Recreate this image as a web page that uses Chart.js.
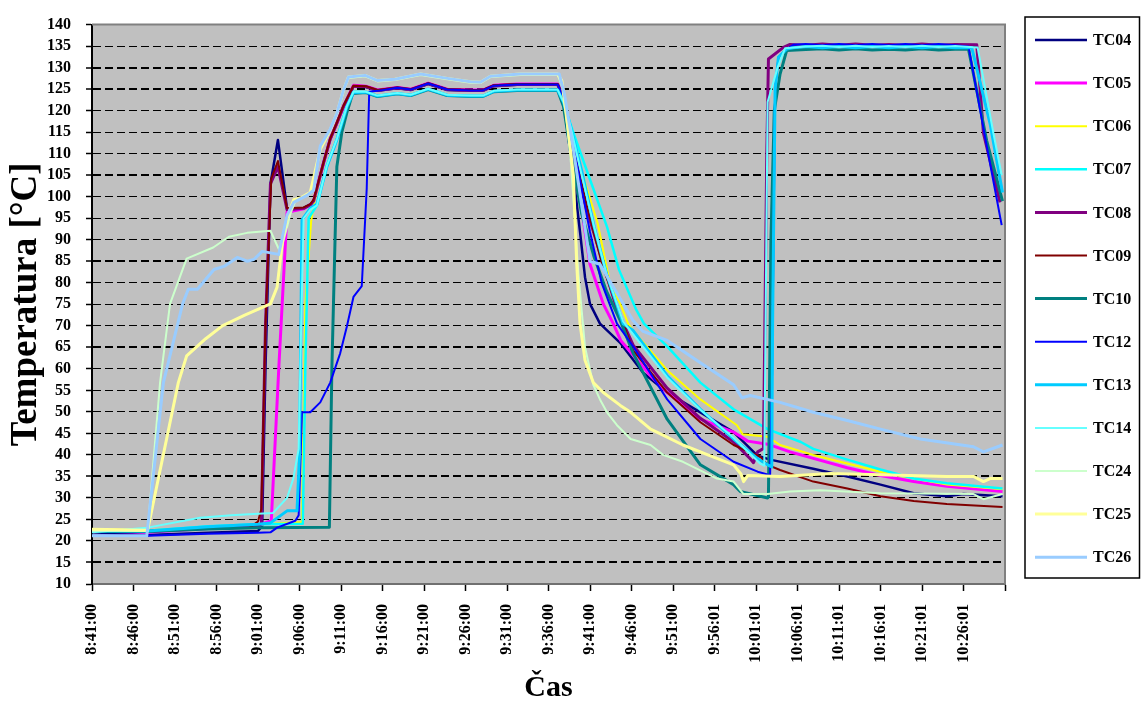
<!DOCTYPE html>
<html><head><meta charset="utf-8">
<script src="https://cdn.jsdelivr.net/npm/chart.js@4.4.1/dist/chart.umd.min.js"></script>
<style>html,body{margin:0;padding:0;background:#fff;}canvas{display:block;}</style>
</head><body>
<canvas id="c" width="1141" height="704"></canvas>
<script>
// x values: minutes after 8:41:00
const tickLabels = ['8:41:00','8:46:00','8:51:00','8:56:00','9:01:00','9:06:00','9:11:00','9:16:00','9:21:00','9:26:00','9:31:00','9:36:00','9:41:00','9:46:00','9:51:00','9:56:01','10:01:01','10:06:01','10:11:01','10:16:01','10:21:01','10:26:01'];
const seriesNames = ['TC04','TC05','TC06','TC07','TC08','TC09','TC10','TC12','TC13','TC14','TC24','TC25','TC26'];

const TC04 = [[0,22.0],[6.7,21.4],[14,21.9],[20,22.3],[20.5,23.5],[20.9,60],[21.5,103],[22.4,113.2],[23.5,97.2],[25.5,97.4],[26.3,98.2],[26.7,99],[27.9,107.9],[28.7,113.4],[29.5,117.1],[30.3,121],[31.5,125.6],[33,125.5],[34.4,124.6],[36.8,125.2],[38.4,124.8],[40.5,126.2],[42.8,124.8],[45.6,124.6],[47.1,124.6],[48.4,125.7],[51.2,126],[56.1,126],[56.8,122.6],[58,104.9],[58.8,91.8],[59.4,81.3],[60,75.1],[61.2,70.5],[63.7,65.9],[66.4,59.1],[69.3,54.5],[73.3,49.9],[77.3,45.3],[80.2,39.8],[81.7,38.9],[86.9,36.8],[91,35],[95,33.1],[99,31.1],[103,30.4],[105,30.9],[109.7,30.4]];
const TC05 = [[0,22.3],[6.7,22.0],[14,22.9],[20,23.6],[21.6,24.7],[22.5,60],[23.5,96.4],[24.5,96.8],[25.5,97.2],[26.3,98.2],[26.7,99],[27.9,107.9],[28.7,113.4],[29.5,117.1],[30.3,121],[31.5,125.9],[33,125.7],[34.4,124.8],[36.8,125.4],[38.4,125],[40.5,126.4],[42.8,125],[45.6,124.8],[47.1,124.8],[48.4,125.9],[51.2,126.2],[56.1,126.2],[56.8,123],[57.6,113],[58.8,99.6],[60,84.3],[61.6,75.1],[62.8,70.5],[63.7,66.6],[67.3,58.4],[69.3,54.5],[73.3,48.3],[77.3,45.3],[79,43.2],[81.4,42.5],[84.1,40.7],[86.9,39.2],[91,37],[95,35.2],[99,33.8],[103,32.7],[109.7,31.5]];
const TC06 = [[0,22.7],[6.7,22.5],[14,23.2],[20,23.8],[25.3,24.4],[25.7,75],[26.4,94.2],[26.8,99],[27.9,107.9],[28.7,113.4],[29.5,117.1],[30.3,121],[31.5,125.8],[33,125.6],[34.4,124.7],[36.8,125.3],[38.4,124.9],[40.5,126.3],[42.8,124.9],[45.6,124.7],[47.1,124.7],[48.4,125.8],[51.2,126.1],[56.1,126.1],[56.8,123.5],[58,112],[60.9,94],[62.4,80],[63.65,75.1],[64.6,70.5],[65.2,68.9],[69.3,59.7],[73.3,52.9],[77.7,46.9],[78.4,44.8],[81.4,44.2],[82.9,42.3],[86.9,40],[91,38],[95,36.1],[99,34.5],[103,33.1],[109.7,32]];
const TC07 = [[0,22.5],[6.7,22.4],[14,23.4],[20,23.9],[25.4,24],[25.7,60],[26.1,95],[27.1,98],[28.3,107.2],[29.5,113.4],[30.7,121],[31.5,124.4],[33,124.3],[34.4,123.4],[36.8,124],[38.4,123.6],[40.5,125],[42.8,123.6],[45.6,123.4],[47.1,123.4],[48.4,124.5],[51.2,124.8],[56.1,124.8],[56.8,122],[58,114.8],[60,104],[62.05,93],[63.5,83],[65.5,74],[66.5,70.5],[69.3,65.2],[73.3,56.8],[77.3,50.6],[81.4,46],[85.4,43],[86.9,41.4],[91,38.9],[95,36.6],[99,34.5],[103,33.4],[109.7,32.2]];
const TC08 = [[0,22.3],[6.7,22.2],[14,23],[20,23.4],[20.4,24],[20.9,70],[21.5,103],[22.4,107],[23.5,97],[25.5,97.3],[26.3,98.1],[26.7,99],[27.9,107.9],[28.7,113.4],[29.5,117.1],[30.3,121],[31.5,125.7],[33,125.6],[34.4,124.7],[36.8,125.3],[38.4,124.9],[40.5,126.3],[42.8,124.9],[45.6,124.7],[47.1,124.7],[48.4,125.8],[51.2,126.1],[56.1,126.1],[56.8,123],[58,110],[59.6,97],[61.5,85],[63.2,74],[65.2,65.5],[69.3,55.5],[73.3,48.5],[77.3,43],[79.3,39.1],[79.7,38.2],[80.2,40.7],[80.9,41.5],[81.3,110],[81.5,132],[83.3,134.7],[84.1,135.4],[86,135.2],[88,135.5],[90,135.2],[92,135.5],[94,135.2],[96,135.4],[98,135.2],[100,135.5],[102,135.2],[104,135.4],[106.6,135.3],[107.4,114.8],[109.4,98.7]];
const TC09 = [[0,22.3],[6.7,22.3],[14,22.9],[19,23.1],[20,24.5],[20.4,27.4],[20.9,70],[21.6,104.2],[22.4,108.3],[23.5,97.3],[25.5,97.5],[26.3,98.3],[26.7,99.3],[27.9,108],[28.7,113.5],[29.5,117.2],[30.3,121.2],[31.5,125.8],[33,125.7],[34.4,124.8],[36.8,125.4],[38.4,125],[40.5,126.4],[42.8,125],[45.6,124.8],[47.1,124.8],[48.4,125.9],[51.2,126.2],[56.1,126.2],[56.8,123],[57.6,115],[59.6,98],[61.5,84],[63.25,74.4],[65.2,64.3],[69.3,54.5],[73.3,47.6],[77.3,42.3],[80.5,39.6],[81.4,37.7],[82.9,36.5],[86.9,33.8],[91,32.2],[95,30.4],[99,29.3],[103,28.6],[109.7,27.9]];
const TC10 = [[0,22.2],[6.7,22.2],[14,22.8],[20,23.1],[28.6,23.2],[28.9,60],[29.5,107],[30.1,115],[30.7,119.5],[31.4,124],[33,124.2],[34.4,123.3],[36.8,123.9],[38.4,123.5],[40.5,124.9],[42.8,123.5],[45.6,123.3],[47.1,123.3],[48.4,124.4],[51.2,124.7],[56.1,124.7],[56.8,121],[57.7,110],[59,96],[60.5,86],[62,78],[63.65,71.2],[65.2,63.6],[69.3,48.3],[73.3,37.7],[77.3,33.1],[78.1,31.5],[81.4,30],[81.5,30.2],[81.8,90],[82.2,120],[82.9,128.5],[83.7,134],[86,134.2],[88,134.4],[90,134.1],[92,134.4],[94,134.1],[96,134.3],[98,134.1],[100,134.4],[102,134.1],[104,134.3],[105.6,134.3],[107.8,113],[109.7,99]];
const TC12 = [[0,21.3],[6.7,21.2],[14,21.7],[20,21.9],[21.5,22],[22.3,23.1],[24.5,24.7],[24.9,26],[25.3,49.9],[26.3,49.9],[27.5,52.2],[28.7,56.8],[29.9,63.6],[30.7,69.8],[31.5,76.7],[32.5,79.2],[33.1,101.9],[33.4,124.4],[34.4,124.6],[36.8,125.3],[38.4,124.9],[40.5,126.3],[42.8,124.9],[45.6,124.7],[47.1,124.7],[48.4,125.8],[51.2,126.1],[56.1,126.1],[56.8,123],[57.6,116],[60,91.8],[61.4,80],[63.25,70.5],[65.2,65.2],[69.3,52.9],[73.3,43.7],[77.3,38.4],[80.2,36.1],[81.7,35.3],[81.95,60],[82.3,125],[82.7,132.4],[83.7,134.3],[84.5,135.3],[86,135.5],[88,135.2],[90,135.5],[92,135.2],[94,135.5],[96,135.2],[98,135.5],[100,135.2],[102,135.5],[104,135.2],[105.6,134.9],[107.8,111.8],[109.6,93.4]];
const TC13 = [[0,22.3],[6.7,22.3],[14,23.3],[20,23.9],[21.5,24.2],[23.5,27],[24.7,27],[25.0,40],[25.3,94.6],[26.3,97.3],[27.1,98.3],[28.3,107],[29.5,113.2],[30.7,120.8],[31.5,124.2],[33,124.3],[34.4,123.4],[36.8,124],[38.4,123.6],[40.5,125],[42.8,123.6],[45.6,123.4],[47.1,123.4],[48.4,124.5],[51.2,124.8],[56.1,124.8],[56.8,122],[57.7,116],[59,106],[60.5,93],[62,82],[64,70.5],[65.2,68.9],[69.3,58.4],[73.3,50.6],[77.3,43.7],[80.2,39.1],[81.4,37.7],[81.9,37.2],[82.0,70],[82.3,125],[82.7,132.4],[83.7,134.3],[84.5,134.6],[86,134.9],[88,134.6],[90,134.9],[92,134.6],[94,134.9],[96,134.6],[98,134.9],[100,134.6],[102,134.9],[104,134.6],[106,134.6],[108.2,117],[109.7,101]];
const TC14 = [[0,22],[6.7,23.1],[13,25.4],[16.8,26],[20,26.3],[21.8,26.5],[23.5,30],[24.25,34.5],[24.9,41.4],[25.2,70],[25.5,95],[26.3,97],[27.1,98],[28.3,107.2],[29.5,113.4],[30.7,121],[31.5,124.4],[33,124.4],[34.4,123.5],[36.8,124.1],[38.4,123.7],[40.5,125.1],[42.8,123.7],[45.6,123.5],[47.1,123.5],[48.4,124.6],[51.2,124.9],[56.1,124.9],[56.8,122],[57.7,116],[59,105],[60.5,93],[62,82],[64,71],[65.2,68],[69.3,58],[73.3,50.5],[77.3,44],[80.5,38],[81.0,37.5],[81.2,80],[81.4,122],[82.6,130],[83.5,134.5],[86,134.9],[88,135.1],[90,134.8],[92,135.1],[94,134.8],[96,135],[98,134.8],[100,135.1],[102,134.8],[104,135],[106.7,134.7],[108.6,114.8],[109.6,105]];
const TC24 = [[0,22.4],[6.7,22.3],[8.2,56.8],[9.4,75.1],[11.4,85.6],[14.6,88.2],[16.5,90.7],[18.7,91.6],[21.5,92.1],[22.7,87],[23.9,96],[24.5,99],[25.9,100.3],[26.7,101.5],[27.5,111.5],[28.7,115.5],[29.5,119.2],[30.3,124.6],[30.9,127.6],[32.9,128],[34.4,126.8],[36.5,127.1],[39.6,128.3],[42.8,127.3],[45.6,126.5],[46.8,126.4],[48,127.8],[51.6,128.3],[56.1,128.3],[56.8,125],[57.7,108],[58.6,82],[59.4,65],[60.4,56.3],[61.2,52.9],[62.05,49.9],[63.25,46.9],[64.9,43.7],[67.3,42.3],[68.8,40],[71.2,38.4],[75.3,34.5],[77.3,33.8],[78.5,30.9],[81.4,30.9],[84.1,31.5],[87.75,31.8],[95,31.1],[106.2,30.9],[107.4,29.7],[109.7,30.9]];
const TC25 = [[0,22.7],[6.7,22.5],[10.4,56.8],[11.4,63],[13.7,67],[15.7,70],[18.4,72.5],[21.5,75.1],[22.3,79],[23.0,90.5],[23.6,95.7],[24.3,99.3],[25.1,99.7],[26.3,101],[27.5,111],[28.7,115.5],[29.5,119.3],[30.3,124.8],[30.9,127.8],[32.9,128.2],[34.4,127],[36.5,127.3],[39.6,128.5],[42.8,127.5],[45.6,126.7],[46.8,126.6],[48,128],[51.6,128.5],[56.1,128.5],[56.6,127],[57.4,115],[58,104.9],[58.4,84.3],[58.8,70.5],[59.4,62],[60.4,56.8],[61.6,54.5],[63.65,51.5],[64.9,49.9],[67.3,46],[68.8,44.6],[71.2,42.3],[74.2,40],[77.3,37.7],[78.2,35.5],[78.5,33.8],[79,35.2],[82.9,35],[89,35.7],[95,35.4],[103,35],[106.2,35],[107.4,33.8],[108.2,34.5],[109.7,34.5]];
const TC26 = [[0,21.2],[6.6,21.2],[8.6,56.8],[10.9,75],[11.6,78.5],[12.7,78.5],[14.7,83.1],[15.9,83.8],[17.5,85.9],[18.7,85],[19.5,85.4],[20.5,87.3],[22.5,86.6],[23.5,95.7],[24.3,98.7],[25.9,100.3],[26.7,101.5],[27.5,111.8],[28.7,115.7],[29.5,119.4],[30.3,124.8],[30.9,127.8],[32.9,128.2],[34.4,127],[36.5,127.3],[39.6,128.5],[42.8,127.5],[45.6,126.7],[46.8,126.6],[48,128],[51.6,128.5],[56.3,128.5],[56.9,124],[58,111],[60,85],[61.2,84.3],[65.2,71.2],[66.4,68.7],[69.3,66.6],[73.3,61.4],[77.3,56.3],[78.3,53.3],[79.3,53.8],[82.9,52.2],[86.9,49.9],[91,48],[95,46],[99.8,43.7],[106.2,41.9],[107.4,40.7],[109.7,42.3]];

const allSeries = [TC04, TC05, TC06, TC07, TC08, TC09, TC10, TC12, TC13, TC14, TC24, TC25, TC26];
const seriesColors = ['#000080','#FF00FF','#FFFF00','#00FFFF','#800080','#800000','#008080','#0000FF','#00CCFF','#66FFFF','#CCFFCC','#FFFF99','#99CCFF'];
const seriesWidths = [2.5,3,2,2.5,3,2,3,2,3,2,2,3,3];

const SERIF = '"Liberation Serif","Times New Roman",serif';
const boldGrid = [15,35,65,85,105,125,130];

const framePlugin = {
  id: 'framePlugin',
  beforeDraw(chart) {
    const {ctx, chartArea: a} = chart;
    ctx.save();
    ctx.fillStyle = '#ffffff';
    ctx.fillRect(0, 0, chart.width, chart.height);
    ctx.fillStyle = '#C0C0C0';
    ctx.fillRect(a.left, a.top, a.right - a.left, a.bottom - a.top);
    ctx.restore();
  },
  beforeDatasetsDraw(chart) {
    const {ctx, chartArea: a} = chart;
    ctx.save();
    ctx.strokeStyle = '#808080';
    ctx.lineWidth = 2;
    ctx.setLineDash([]);
    ctx.beginPath();
    ctx.moveTo(a.left, a.top);
    ctx.lineTo(a.right, a.top);
    ctx.lineTo(a.right, a.bottom);
    ctx.stroke();
    ctx.restore();
  },
  afterDraw(chart) {
    const ctx = chart.ctx;
    const box = {l: 1025, t: 17, r: 1139.5, b: 578};
    ctx.save();
    ctx.setLineDash([]);
    ctx.strokeStyle = '#000';
    ctx.lineWidth = 1.5;
    ctx.strokeRect(box.l, box.t, box.r - box.l, box.b - box.t);
    ctx.font = 'bold 16px ' + SERIF;
    ctx.textBaseline = 'middle';
    ctx.textAlign = 'left';
    chart.data.datasets.forEach((ds, i) => {
      const y = 40 + i * 43.1;
      ctx.strokeStyle = ds.borderColor;
      ctx.lineWidth = ds.borderWidth;
      ctx.beginPath();
      ctx.moveTo(1035, y);
      ctx.lineTo(1087, y);
      ctx.stroke();
      ctx.fillStyle = '#000';
      ctx.fillText(ds.label, 1093, y + 1);
    });
    ctx.restore();
  }
};

new Chart(document.getElementById('c'), {
  type: 'line',
  data: {
    datasets: allSeries.map((s, i) => ({
      label: seriesNames[i],
      data: s.map(p => ({x: p[0], y: p[1]})),
      borderColor: seriesColors[i],
      backgroundColor: seriesColors[i],
      borderWidth: seriesWidths[i],
      pointRadius: 0,
      tension: 0,
      fill: false,
      borderJoinStyle: 'round',
      order: allSeries.length - i
    }))
  },
  options: {
    responsive: false,
    animation: false,
    devicePixelRatio: 1,
    layout: {padding: {left: 0, top: 17, right: 136, bottom: 0}},
    plugins: {legend: {display: false}, tooltip: {enabled: false}},
    scales: {
      x: {
        type: 'linear', min: 0, max: 110,
        ticks: {
          stepSize: 5, autoSkip: false, maxRotation: 90, minRotation: 90, padding: 13,
          color: '#000', font: {family: SERIF, size: 16, weight: 'bold'},
          callback: v => tickLabels[Math.round(v / 5)] || ''
        },
        grid: {drawOnChartArea: false, drawTicks: true, tickLength: 7, tickColor: '#000', tickWidth: 1.5, color: '#000'},
        border: {display: true, color: '#707070', width: 2},
        title: {display: true, text: 'Čas', color: '#000', font: {family: SERIF, size: 30, weight: 'bold', lineHeight: 1}, padding: {top: 0, bottom: 1}},
        afterFit: s => { s.height = 120; }
      },
      y: {
        type: 'linear', min: 10, max: 140,
        ticks: {stepSize: 5, autoSkip: false, padding: 15, color: '#000', font: {family: SERIF, size: 16, weight: 'bold'}},
        grid: {
          drawOnChartArea: true, drawTicks: true, tickLength: 6,
          color: c => (c.tick && (c.tick.value === 10 || c.tick.value === 140)) ? 'rgba(0,0,0,0)' : '#000',
          lineWidth: c => (c.tick && boldGrid.includes(c.tick.value)) ? 2 : 1,
          tickColor: '#000', tickWidth: 1.5, tickBorderDash: []
        },
        border: {display: true, color: '#000', width: 2, dash: [8, 4]},
        title: {display: true, text: 'Temperatura [°C]', color: '#000', font: {family: SERIF, size: 37, weight: 'bold', lineHeight: 1}, padding: {top: 8, bottom: 0}},
        afterFit: s => { s.width = 92; }
      }
    }
  },
  plugins: [framePlugin]
});
</script>
</body></html>
